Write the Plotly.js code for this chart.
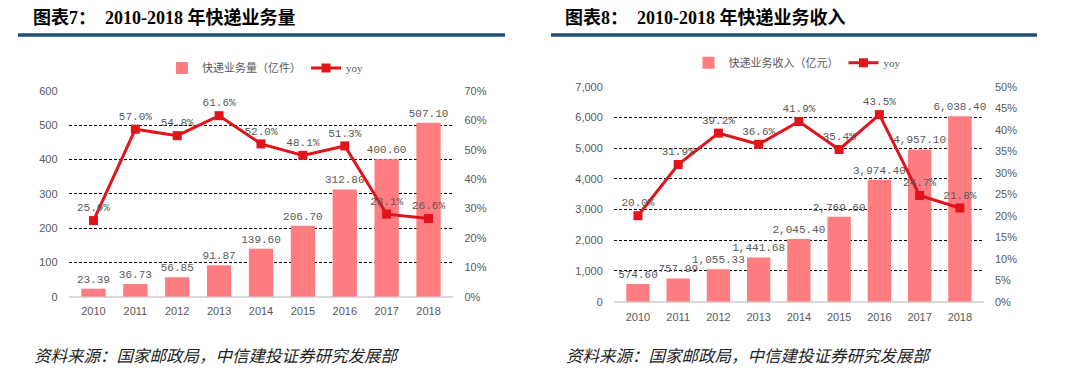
<!DOCTYPE html>
<html>
<head>
<meta charset="utf-8">
<script src="https://cdn.plot.ly/plotly-3.0.1.min.js"></script>
<style>html,body{margin:0;padding:0;background:#fff;}#chart{width:1080px;height:372px;}</style>
</head>
<body>
<div id="chart"></div>
<script>
// ---- data ----
const years = ['2010','2011','2012','2013','2014','2015','2016','2017','2018'];
const volume = [23.39, 36.73, 56.85, 91.87, 139.60, 206.70, 312.80, 400.60, 507.10];
const volumeYoy = [25.9, 57.0, 54.8, 61.6, 52.0, 48.1, 51.3, 28.1, 26.6];
const revenue = [574.60, 757.99, 1055.33, 1441.68, 2045.40, 2769.60, 3974.40, 4957.10, 6038.40];
const revenueYoy = [20.0, 31.9, 39.2, 36.6, 41.9, 35.4, 43.5, 24.7, 21.8];
const volumeName = '快递业务量（亿件）';
const revenueName = '快递业务收入（亿元）';
const yoyName = 'yoy';
const title1 = '图表7：\u00a0\u00a02010-2018 年快递业务量';
const title2 = '图表8：\u00a0\u00a02010-2018 年快递业务收入';
const sourceText = '资料来源：国家邮政局，中信建投证券研究发展部';

// ---- style ----
const BAR = '#FF7C80', LINE = '#E3131B', GRAY = '#595959';
const labelFont = {family: 'Liberation Mono, DejaVu Sans Mono, monospace', size: 11, color: GRAY};
const tickFont = {family: 'Liberation Sans, Arial, sans-serif', size: 11, color: GRAY};
const W = 1080, H = 372;
const px = x => x / W, py = y => 1 - y / H;

const traces = [
  {type: 'bar', x: years, y: volume, name: volumeName, xaxis: 'x', yaxis: 'y',
   marker: {color: BAR}, texttemplate: '%{y:.2f}', textposition: 'outside',
   constraintext: 'none', textangle: 0,
   textfont: labelFont, cliponaxis: false, legend: 'legend', hoverinfo: 'skip'},
  {type: 'scatter', mode: 'lines+markers+text', x: years, y: volumeYoy, name: yoyName,
   xaxis: 'x', yaxis: 'y2', line: {color: LINE, width: 3},
   marker: {symbol: 'square', size: 9, color: LINE},
   texttemplate: '%{y:.1f}%', textposition: 'top center', textfont: labelFont,
   cliponaxis: false, legend: 'legend', hoverinfo: 'skip'},
  {type: 'bar', x: years, y: revenue, name: revenueName, xaxis: 'x2', yaxis: 'y3',
   marker: {color: BAR}, texttemplate: '%{y:,.2f}', textposition: 'outside',
   constraintext: 'none', textangle: 0,
   textfont: labelFont, cliponaxis: false, legend: 'legend2', hoverinfo: 'skip'},
  {type: 'scatter', mode: 'lines+markers+text', x: years, y: revenueYoy, name: yoyName,
   xaxis: 'x2', yaxis: 'y4', line: {color: LINE, width: 3},
   marker: {symbol: 'square', size: 9, color: LINE},
   texttemplate: '%{y:.1f}%', textposition: 'top center', textfont: labelFont,
   cliponaxis: false, legend: 'legend2', hoverinfo: 'skip'}
];

const gridY = {showgrid: true, gridcolor: '#000000', gridwidth: 1, griddash: '3px,2px',
  zeroline: true, zerolinecolor: '#D9D9D9', zerolinewidth: 2, showline: false,
  tickfont: tickFont, ticks: '', ticklabelstandoff: 10, fixedrange: true};
const rightY = {showgrid: false, zeroline: false, showline: false, side: 'right',
  tickfont: tickFont, ticks: '', ticksuffix: '%', ticklabelstandoff: 10, fixedrange: true};
const xBase = {type: 'category', showgrid: false, showline: false, zeroline: false, ticks: '',
  tickfont: tickFont, ticklabelstandoff: 6, fixedrange: true};

const layout = {
  width: W, height: H, margin: {l: 0, r: 0, t: 0, b: 0},
  paper_bgcolor: '#fff', plot_bgcolor: 'rgba(0,0,0,0)',
  bargap: 0.42, showlegend: true,
  xaxis: Object.assign({}, xBase, {domain: [px(68.6), px(453.4)], anchor: 'y'}),
  yaxis: Object.assign({}, gridY, {domain: [py(296.7), py(91)], range: [0, 600], dtick: 100, anchor: 'x'}),
  yaxis2: Object.assign({}, rightY, {overlaying: 'y', anchor: 'x', range: [0, 70], dtick: 10}),
  xaxis2: Object.assign({}, xBase, {domain: [px(613.8), px(984)], anchor: 'y3', ticklabelstandoff: 7}),
  yaxis3: Object.assign({}, gridY, {domain: [py(301.7), py(86.7)], range: [0, 7000], dtick: 1000, tickformat: ',d', anchor: 'x2'}),
  yaxis4: Object.assign({}, rightY, {overlaying: 'y3', anchor: 'x2', range: [0, 50], dtick: 5}),
  legend: {orientation: 'h', x: px(265), y: py(68), xanchor: 'center', yanchor: 'middle',
    font: {family: 'Liberation Serif, Noto Sans CJK SC', size: 11, color: GRAY},
    bgcolor: 'rgba(0,0,0,0)', itemwidth: 30, tracegroupgap: 0},
  legend2: {orientation: 'h', x: px(797), y: py(62.7), xanchor: 'center', yanchor: 'middle',
    font: {family: 'Liberation Serif, Noto Sans CJK SC', size: 11, color: GRAY},
    bgcolor: 'rgba(0,0,0,0)', itemwidth: 30, tracegroupgap: 0},
  shapes: [
    {type: 'line', xref: 'paper', yref: 'paper', x0: px(18), x1: px(505), y0: py(35), y1: py(35),
     line: {color: '#1F4E79', width: 3.5}},
    {type: 'line', xref: 'paper', yref: 'paper', x0: px(551), x1: px(1037), y0: py(35), y1: py(35),
     line: {color: '#1F4E79', width: 3.5}}
  ],
  annotations: [
    {xref: 'paper', yref: 'paper', x: px(31), y: py(18), xanchor: 'left', yanchor: 'middle',
     text: '<b>' + title1 + '</b>', showarrow: false,
     font: {family: 'Liberation Serif, Noto Sans CJK SC', size: 18, color: '#000'}},
    {xref: 'paper', yref: 'paper', x: px(563), y: py(18), xanchor: 'left', yanchor: 'middle',
     text: '<b>' + title2 + '</b>', showarrow: false,
     font: {family: 'Liberation Serif, Noto Sans CJK SC', size: 18, color: '#000'}},
    {xref: 'paper', yref: 'paper', x: px(32), y: py(355), xanchor: 'left', yanchor: 'middle',
     text: '<i>' + sourceText + '</i>', showarrow: false,
     font: {family: 'Noto Sans CJK SC', size: 16.5, color: '#222'}},
    {xref: 'paper', yref: 'paper', x: px(564), y: py(355), xanchor: 'left', yanchor: 'middle',
     text: '<i>' + sourceText + '</i>', showarrow: false,
     font: {family: 'Noto Sans CJK SC', size: 16.5, color: '#222'}}
  ]
};

Plotly.newPlot('chart', traces, layout, {staticPlot: true, displayModeBar: false});
</script>
</body>
</html>
